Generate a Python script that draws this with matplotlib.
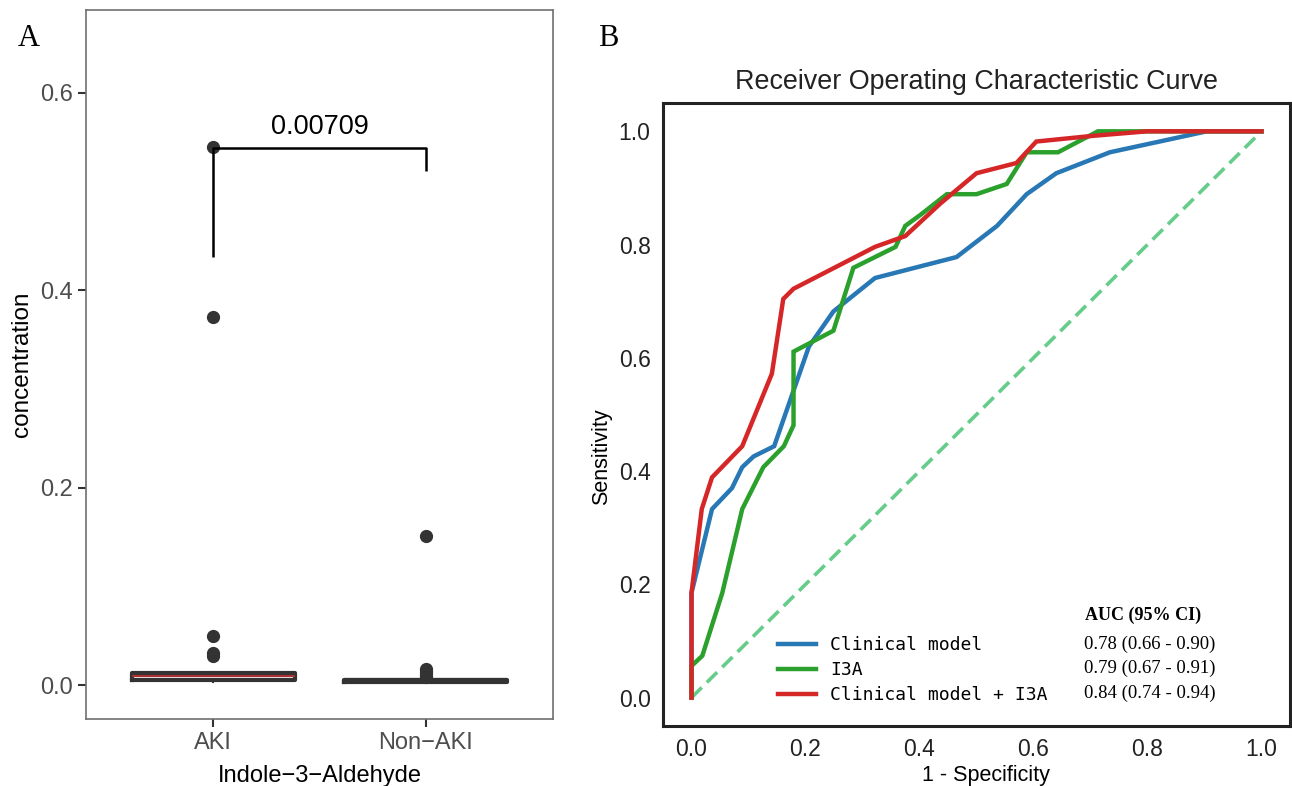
import matplotlib
matplotlib.use('Agg')
import matplotlib.pyplot as plt

# ---------------- Panel A data ----------------
groups = ['AKI', 'Non\u2212AKI']
box_q1 = [0.0055, 0.0038]
box_med = [0.0100, 0.0050]
box_q3 = [0.0122, 0.0060]
box_lo = [0.0030, 0.0020]
box_hi = [0.0135, 0.0080]
outliers_aki = [0.545, 0.373, 0.050, 0.033, 0.030]
outliers_non = [0.151, 0.017, 0.015, 0.013, 0.011, 0.009]
p_label = '0.00709'
bracket_y = [0.434, 0.544, 0.544, 0.521]
yticks_a = [0.0, 0.2, 0.4, 0.6]

# ---------------- Panel B data ----------------
fpr_clin = [0, 0, 0.036, 0.071, 0.089, 0.109, 0.145, 0.206, 0.249, 0.322, 0.465,
            0.536, 0.588, 0.640, 0.734, 0.904, 1.0]
tpr_clin = [0, 0.185, 0.333, 0.370, 0.407, 0.426, 0.444, 0.620, 0.682, 0.741, 0.778,
            0.833, 0.889, 0.926, 0.963, 1.0, 1.0]
fpr_i3a = [0, 0, 0.019, 0.054, 0.089, 0.126, 0.162, 0.179, 0.179, 0.249, 0.284, 0.358,
           0.375, 0.401, 0.448, 0.500, 0.553, 0.588, 0.643, 0.713, 1.0]
tpr_i3a = [0, 0.056, 0.074, 0.185, 0.333, 0.407, 0.444, 0.481, 0.611, 0.648, 0.759, 0.796,
           0.833, 0.852, 0.889, 0.889, 0.907, 0.963, 0.963, 1.0, 1.0]
fpr_comb = [0, 0, 0.018, 0.036, 0.089, 0.141, 0.161, 0.179, 0.322, 0.375, 0.436, 0.500,
            0.570, 0.605, 0.704, 0.799, 1.0]
tpr_comb = [0, 0.185, 0.333, 0.389, 0.444, 0.572, 0.704, 0.722, 0.796, 0.815, 0.872, 0.926,
            0.944, 0.982, 0.992, 1.0, 1.0]
model_names = ['Clinical model', 'I3A', 'Clinical model + I3A']
model_colors = ['#2878b5', '#2ca02c', '#d62728']
auc_text = ['0.78 (0.66 - 0.90)', '0.79 (0.67 - 0.91)', '0.84 (0.74 - 0.94)']
ticks_b = [0.0, 0.2, 0.4, 0.6, 0.8, 1.0]

SANS = ['Liberation Sans', 'DejaVu Sans']
SERIF = ['Liberation Serif', 'DejaVu Serif']
MONO = ['DejaVu Sans Mono']

fig = plt.figure(figsize=(12.92, 7.86), dpi=100)

# ================= Panel A =================
axA = fig.add_axes([86/1292, 1-719/786, (553-86)/1292, (719-10)/786])
stats = []
fliers = [outliers_aki, outliers_non]
for i in range(2):
    stats.append(dict(med=box_med[i], q1=box_q1[i], q3=box_q3[i],
                      whislo=box_lo[i], whishi=box_hi[i], fliers=fliers[i]))
bp = axA.bxp(stats, positions=[1, 2], widths=0.77, showfliers=True,
             boxprops=dict(color='#333333', linewidth=3),
             whiskerprops=dict(color='#333333', linewidth=1.5),
             capprops=dict(linewidth=0),
             medianprops=dict(color='#333333', linewidth=3),
             flierprops=dict(marker='o', markerfacecolor='#333333',
                             markeredgecolor='#333333', markersize=8.5))
bp['medians'][0].set_color('#a83232')
bp['medians'][0].set_linewidth(1.6)

axA.plot([1, 1, 2, 2], bracket_y, color='black', lw=1.8, solid_capstyle='butt')
axA.text(1.5, bracket_y[1] + 0.008, p_label, ha='center', va='bottom',
         fontsize=19.5, family=SANS, color='black')

axA.set_xlim(0.4, 2.6)
axA.set_ylim(-0.034, 0.684)
axA.set_xticks([1, 2])
axA.set_xticklabels(groups)
axA.set_yticks(yticks_a)
axA.set_yticklabels([f'{v:.1f}' for v in yticks_a])
axA.tick_params(axis='both', colors='#333333', labelcolor='#4d4d4d', labelsize=17,
                length=6, width=1.5)
for lab in axA.get_xticklabels() + axA.get_yticklabels():
    lab.set_family(SANS)
for s in axA.spines.values():
    s.set_color('#707070')
    s.set_linewidth(1.2)
axA.set_ylabel('concentration', fontsize=17.5, family=SANS, labelpad=5)
axA.set_xlabel('Indole\u22123\u2212Aldehyde', fontsize=17, family=SANS, labelpad=8)
fig.text(18/1292, 1-38/786, 'A', fontsize=22, family=SERIF, va='center', ha='left')

# ================= Panel B =================
axB = fig.add_axes([663/1292, 1-726/786, (1290-663)/1292, (726-103)/786])
axB.plot([0, 1], [0, 1], linestyle=(0, (4, 2)), color='#66cc8a', lw=2.6)
handles = []
for fx, ty, nm, col in [(fpr_clin, tpr_clin, model_names[0], model_colors[0]),
                        (fpr_i3a, tpr_i3a, model_names[1], model_colors[1]),
                        (fpr_comb, tpr_comb, model_names[2], model_colors[2])]:
    h, = axB.plot(fx, ty, color=col, lw=3.2, label=nm, solid_joinstyle='miter')
    handles.append(h)

axB.set_xlim(-0.05, 1.05)
axB.set_ylim(-0.05, 1.05)
axB.set_xticks(ticks_b)
axB.set_yticks(ticks_b)
axB.set_xticklabels([f'{v:.1f}' for v in ticks_b])
axB.set_yticklabels([f'{v:.1f}' for v in ticks_b])
axB.tick_params(axis='both', length=0, labelsize=16.5, pad=9, labelcolor='#222222')
for lab in axB.get_xticklabels() + axB.get_yticklabels():
    lab.set_family(SANS)
for s in axB.spines.values():
    s.set_color('#222222')
    s.set_linewidth(2.2)
axB.set_xlabel('1 - Specificity', fontsize=15.5, family=SANS)
axB.set_ylabel('Sensitivity', fontsize=15.5, family=SANS)
axB.xaxis.set_label_coords(0.515, -0.062)
axB.yaxis.set_label_coords(-0.081, 0.432)
axB.set_title('Receiver Operating Characteristic Curve', fontsize=19.4, family=SANS,
              pad=10, color='#222222')

leg = axB.legend(handles=handles, loc='lower left', bbox_to_anchor=(0.183, 0.035),
                 frameon=False, borderpad=0, borderaxespad=0, handlelength=2.1,
                 handletextpad=0.8, labelspacing=0.38, prop=dict(family=MONO, size=13))
axB.text(0.765, 0.178, 'AUC (95% CI)', transform=axB.transAxes, ha='center', va='center',
         fontsize=13, family=SERIF, fontweight='bold')
row_y = [(726-644)/623, (726-668)/623, (726-693)/623]
for t, yy in zip(auc_text, row_y):
    axB.text(0.776, yy, t, transform=axB.transAxes, ha='center', va='center',
             fontsize=13.5, family=SERIF)

fig.text(598/1292, 1-38/786, 'B', fontsize=22, family=SERIF, va='center', ha='left')

fig.savefig('out.png', dpi=100, facecolor='white')
